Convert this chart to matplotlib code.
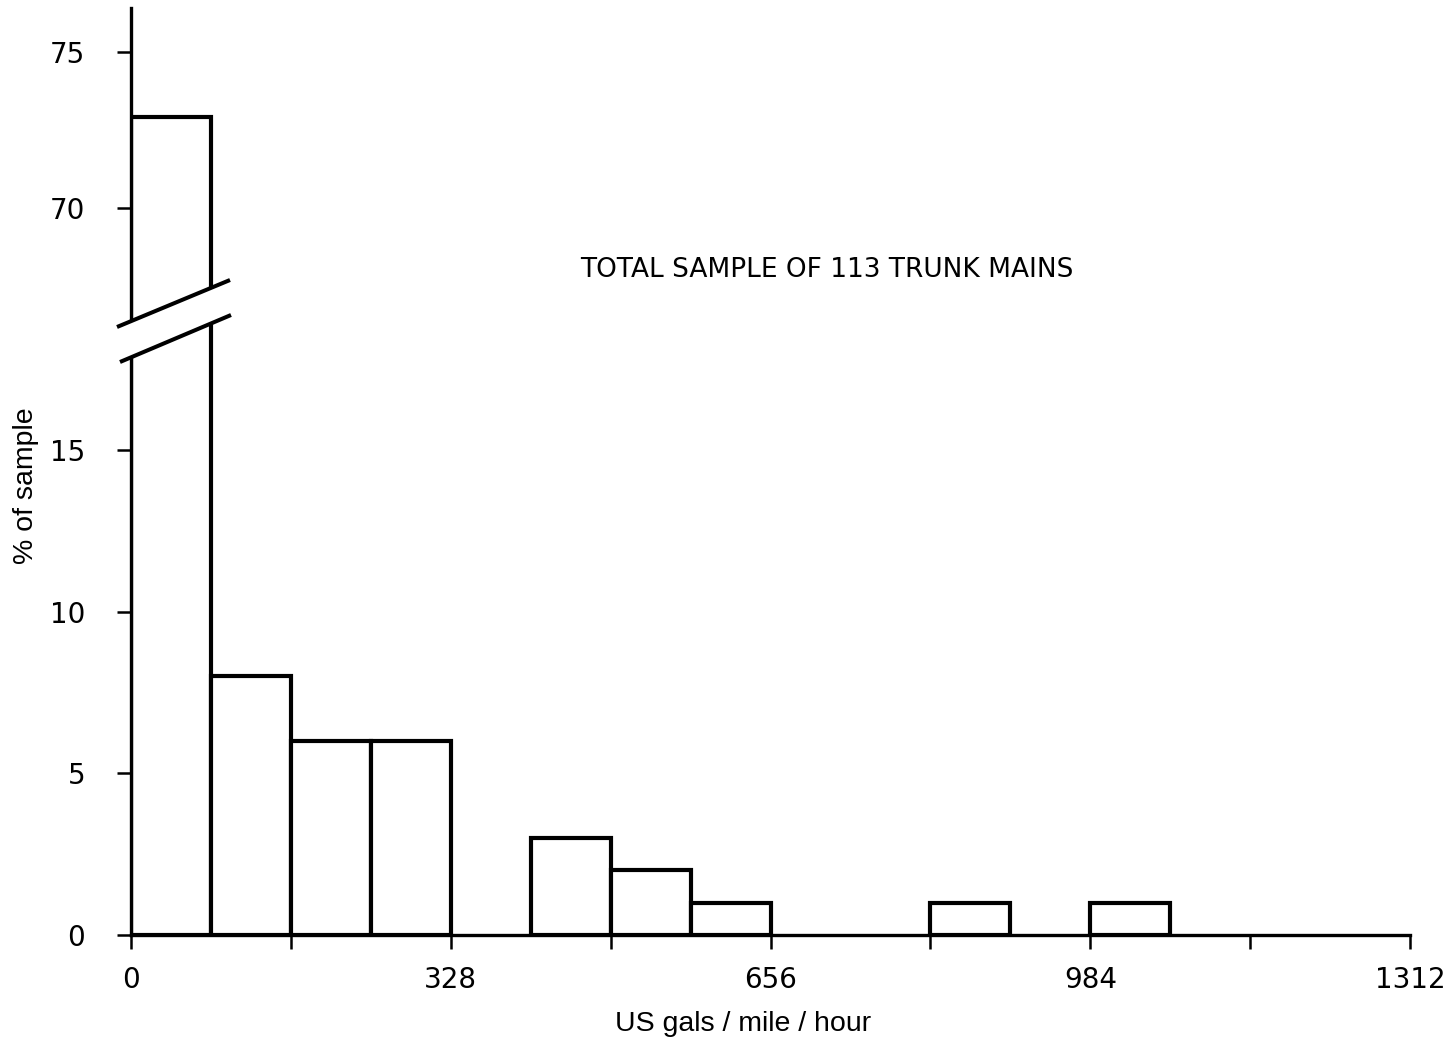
import numpy as np
import matplotlib
matplotlib.use("Agg")
import matplotlib.pyplot as plt
from matplotlib.patches import Polygon

plt.rcParams['font.family'] = ['Liberation Sans', 'DejaVu Sans']

# leakage classes, US gals / mile / hour (bin width 82)
bin_left = [0, 82, 164, 246, 328, 410, 492, 574, 656, 738, 820, 902, 984]
pct_sample = [72.9, 8, 6, 6, 0, 3, 2, 1, 0, 0, 1, 0, 1]
bin_width = 82

x_ticks = [0, 164, 328, 492, 656, 820, 984, 1148, 1312]
x_labels = ["0", "", "328", "", "656", "", "984", "", "1312"]
y_ticks = [0, 5, 10, 15, 70, 75]
y_labels = ["0", "5", "10", "15", "70", "75"]

# broken y axis: 0..18 on the lower part, 66.4.. on the upper part
knots_v = np.array([-20.0, 0.0, 18.0, 66.4, 100.0])
knots_p = np.array([-646.6, 0.0, 582.0, 614.7, 1663.0])


def fwd(v):
    return np.interp(v, knots_v, knots_p)


def inv(p):
    return np.interp(p, knots_p, knots_v)


fig = plt.figure(figsize=(14.53, 10.48), dpi=100)
ax = fig.add_axes([131 / 1453, 113 / 1048, 1279 / 1453, 927 / 1048])
ax.set_yscale('function', functions=(fwd, inv))

nz = [i for i, h in enumerate(pct_sample) if h > 0]
ax.bar([bin_left[i] for i in nz], [pct_sample[i] for i in nz], width=bin_width,
       align='edge', facecolor='white', edgecolor='black', linewidth=3.0, zorder=2)

ax.set_xlim(0, 1312)
ax.set_ylim(0, 76.4)

for s in ['top', 'right']:
    ax.spines[s].set_visible(False)
for s in ['left', 'bottom']:
    ax.spines[s].set_linewidth(2.4)
    ax.spines[s].set_zorder(3)

ax.set_xticks(x_ticks)
ax.set_xticklabels(x_labels)
ax.set_yticks(y_ticks)
ax.set_yticklabels(y_labels)
ax.yaxis.set_minor_locator(matplotlib.ticker.NullLocator())
ax.tick_params(axis='x', direction='out', length=10, width=1.8, pad=12, labelsize=20)
ax.tick_params(axis='y', direction='out', length=10, width=1.8, pad=23, labelsize=20)
for lbl in ax.get_xticklabels() + ax.get_yticklabels():
    lbl.set_fontfamily('DejaVu Sans')

ax.set_ylabel("% of sample", fontsize=20.5)
ax.yaxis.set_label_coords(-0.082, 0.485)
ax.yaxis.label.set_verticalalignment('center')
ax.set_xlabel("US gals / mile / hour", fontsize=20.5)
ax.xaxis.set_label_coords(0.4785, -0.096)
ax.xaxis.label.set_verticalalignment('center')

ax.text(714, 68, "TOTAL SAMPLE OF 113 TRUNK MAINS", ha='center', va='center',
        fontsize=19, family='DejaVu Sans')

# axis break: white band between two slanted strokes
ax_h = 927.0
ax_w = 1279.0
up = [((117 - 131) / ax_w, 608 / ax_h), ((230 - 131) / ax_w, 655 / ax_h)]
lo = [((120 - 131) / ax_w, 573 / ax_h), ((231 - 131) / ax_w, 620 / ax_h)]
band = Polygon([lo[0], lo[1], up[1], up[0]], closed=True, transform=ax.transAxes,
               facecolor='white', edgecolor='none', clip_on=False, zorder=5)
ax.add_patch(band)
for seg in (up, lo):
    ax.plot([seg[0][0], seg[1][0]], [seg[0][1], seg[1][1]], transform=ax.transAxes,
            color='black', linewidth=2.9, clip_on=False, zorder=6,
            solid_capstyle='butt')

fig.savefig("out.png", dpi=100)
